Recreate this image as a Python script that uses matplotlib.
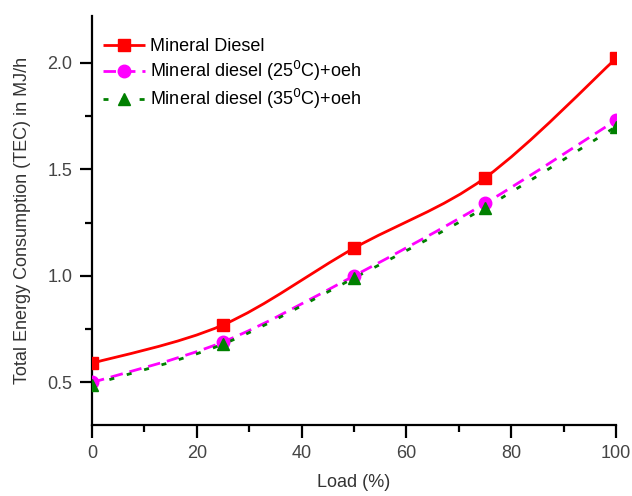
import matplotlib
matplotlib.use("Agg")
import matplotlib.pyplot as plt
import numpy as np
from matplotlib.path import Path
from matplotlib.patches import PathPatch
from matplotlib.lines import Line2D
from matplotlib.ticker import MultipleLocator

plt.rcParams['font.family'] = ['Liberation Sans', 'DejaVu Sans']

load = [0, 25, 50, 75, 100]
diesel = [0.59, 0.77, 1.13, 1.46, 2.02]
d25 = [0.50, 0.69, 1.00, 1.34, 1.73]
d35 = [0.49, 0.68, 0.99, 1.32, 1.70]
labels = ["Mineral Diesel", "Mineral diesel (25$^0$C)+oeh", "Mineral diesel (35$^0$C)+oeh"]


def smooth_path(x, y):
    x = np.asarray(x, float); y = np.asarray(y, float)
    n = len(x)
    verts = [(x[0], y[0])]
    codes = [Path.MOVETO]
    for i in range(n - 1):
        p0 = (x[max(i - 1, 0)], y[max(i - 1, 0)])
        p1 = (x[i], y[i]); p2 = (x[i + 1], y[i + 1])
        p3 = (x[min(i + 2, n - 1)], y[min(i + 2, n - 1)])
        c1 = (p1[0] + (p2[0] - p0[0]) / 6, p1[1] + (p2[1] - p0[1]) / 6)
        c2 = (p2[0] - (p3[0] - p1[0]) / 6, p2[1] - (p3[1] - p1[1]) / 6)
        verts += [c1, c2, p2]
        codes += [Path.CURVE4] * 3
    return Path(verts, codes)


fig = plt.figure(figsize=(6.32, 4.96), dpi=100)
ax = fig.add_axes([0.1456, 0.143, 0.829, 0.825])

series = [
    (diesel, 'red', 's', (0, ())),
    (d25, 'magenta', 'o', (0, (4.5, 2.5))),
    (d35, 'green', '^', (0, (1.8, 4.7))),
]
handles = []
for (vals, col, mk, dash), lab in zip(series, labels):
    patch = PathPatch(smooth_path(load, vals), facecolor='none', edgecolor=col,
                      lw=2.0, linestyle=dash)
    ax.add_patch(patch)
    ax.plot(load, vals, linestyle='none', marker=mk, color=col, markersize=9, zorder=3)
    handles.append(Line2D([], [], color=col, marker=mk, markersize=9, lw=2.0,
                          linestyle=dash))

ax.set_xlim(0, 100)
ax.set_ylim(0.30, 2.22)
ax.xaxis.set_major_locator(MultipleLocator(20))
ax.xaxis.set_minor_locator(MultipleLocator(10))
ax.yaxis.set_major_locator(MultipleLocator(0.5))
ax.yaxis.set_minor_locator(MultipleLocator(0.25))
ax.spines['top'].set_visible(False)
ax.spines['right'].set_visible(False)
for s in ['left', 'bottom']:
    ax.spines[s].set_linewidth(1.6)
ax.tick_params(which='major', direction='out', length=9, width=1.6, labelsize=13,
               labelcolor='#444444', pad=5)
ax.tick_params(which='minor', direction='out', length=5, width=1.6)
ax.set_xlabel("Load (%)", fontsize=13, color='#333333', labelpad=9)
ax.set_ylabel("Total Energy Consumption (TEC) in MJ/h", fontsize=13, color='#333333', labelpad=12)
ax.legend(handles, labels, loc='upper left', bbox_to_anchor=(-0.01, 0.985), frameon=False,
          fontsize=13, handlelength=2.3, handletextpad=0.3, labelspacing=0.22)
fig.savefig("out.png", dpi=100)
